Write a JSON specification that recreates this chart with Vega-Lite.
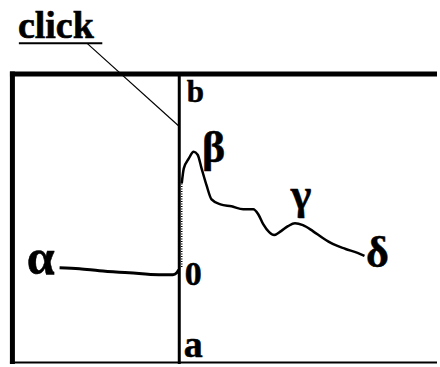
{
  "$schema": "https://vega.github.io/schema/vega-lite/v6.json",
  "width": 440,
  "height": 367,
  "autosize": {"type": "fit", "contains": "padding"},
  "padding": 0,
  "background": "white",
  "config": {"view": {"stroke": null}},
  "encoding": {
    "x": {"type": "quantitative", "scale": {"domain": [-180, 260], "nice": false, "zero": false}, "axis": null},
    "y": {"type": "quantitative", "scale": {"domain": [-92, 275], "nice": false, "zero": false}, "axis": null}
  },
  "layer": [
    {
      "data": {"values": [{"t": -170, "t2": 260, "v": 200.5, "v2": 200.5}, {"t": -167.5, "t2": -167.5, "v": 203, "v2": -92}]},
      "mark": {"type": "rule", "strokeWidth": 5, "color": "black"},
      "encoding": {"x": {"field": "t"}, "x2": {"field": "t2"}, "y": {"field": "v"}, "y2": {"field": "v2"}}
    },
    {
      "data": {"values": [{"t": -170, "t2": 260, "v": -90.5, "v2": -90.5}, {"t": -161, "t2": -77, "v": 231.5, "v2": 231.5}]},
      "mark": {"type": "rule", "strokeWidth": 2, "color": "black"},
      "encoding": {"x": {"field": "t"}, "x2": {"field": "t2"}, "y": {"field": "v"}, "y2": {"field": "v2"}}
    },
    {
      "data": {"values": [{"t": 0.5, "t2": 0.5, "v": 200, "v2": -92}]},
      "mark": {"type": "rule", "strokeWidth": 3, "color": "black"},
      "encoding": {"x": {"field": "t"}, "x2": {"field": "t2"}, "y": {"field": "v"}, "y2": {"field": "v2"}}
    },
    {
      "data": {"values": [{"t": -92, "t2": 0, "v": 231, "v2": 148}]},
      "mark": {"type": "rule", "strokeWidth": 1.2, "color": "black"},
      "encoding": {"x": {"field": "t"}, "x2": {"field": "t2"}, "y": {"field": "v"}, "y2": {"field": "v2"}}
    },
    {
      "data": {"values": [{"t": 3, "t2": 3, "v": 90, "v2": 5}]},
      "mark": {"type": "rule", "strokeWidth": 1.5, "strokeDash": [1, 1.5], "color": "black"},
      "encoding": {"x": {"field": "t"}, "x2": {"field": "t2"}, "y": {"field": "v"}, "y2": {"field": "v2"}}
    },
    {
      "data": {"values": [
        {"t": -120, "v": 5}, {"t": -100, "v": 4}, {"t": -80, "v": 2}, {"t": -50, "v": 0},
        {"t": -20, "v": -2}, {"t": -6, "v": -2}, {"t": -2, "v": 0}, {"t": 0, "v": 3}
      ]},
      "mark": {"type": "line", "strokeWidth": 3, "color": "black", "interpolate": "monotone"},
      "encoding": {"x": {"field": "t"}, "y": {"field": "v"}}
    },
    {
      "data": {"values": [
        {"t": 3, "v": 90}, {"t": 5, "v": 105}, {"t": 10, "v": 115}, {"t": 15, "v": 122},
        {"t": 19, "v": 119}, {"t": 23, "v": 105}, {"t": 28, "v": 88}, {"t": 33, "v": 74},
        {"t": 42, "v": 69}, {"t": 53, "v": 67}, {"t": 65, "v": 64}, {"t": 75, "v": 64},
        {"t": 80, "v": 59}, {"t": 85, "v": 49}, {"t": 91, "v": 41}, {"t": 96, "v": 38},
        {"t": 103, "v": 42}, {"t": 110, "v": 47}, {"t": 117, "v": 50}, {"t": 125, "v": 48},
        {"t": 135, "v": 42}, {"t": 145, "v": 35}, {"t": 155, "v": 29}, {"t": 168, "v": 24},
        {"t": 180, "v": 20}, {"t": 187, "v": 17}
      ]},
      "mark": {"type": "line", "strokeWidth": 2.5, "color": "black", "interpolate": "monotone"},
      "encoding": {"x": {"field": "t"}, "y": {"field": "v"}}
    },
    {
      "data": {"values": [{"label": "click", "t": -162, "v": 237}]},
      "mark": {"type": "text", "font": "Liberation Serif", "fontWeight": "bold", "color": "black", "stroke": "black", "strokeWidth": 0.6, "fontSize": 38, "align": "left", "baseline": "alphabetic"},
      "encoding": {"x": {"field": "t"}, "y": {"field": "v"}, "text": {"field": "label"}}
    },
    {
      "data": {"values": [{"label": "b", "t": 8, "v": 172}]},
      "mark": {"type": "text", "font": "Liberation Serif", "fontWeight": "bold", "color": "black", "stroke": "black", "strokeWidth": 0.5, "fontSize": 31, "align": "left", "baseline": "alphabetic"},
      "encoding": {"x": {"field": "t"}, "y": {"field": "v"}, "text": {"field": "label"}}
    },
    {
      "data": {"values": [{"label": "0", "t": 6, "v": -12}]},
      "mark": {"type": "text", "font": "Liberation Serif", "fontWeight": "bold", "color": "black", "stroke": "black", "strokeWidth": 0.5, "fontSize": 34, "align": "left", "baseline": "alphabetic"},
      "encoding": {"x": {"field": "t"}, "y": {"field": "v"}, "text": {"field": "label"}}
    },
    {
      "data": {"values": [{"label": "a", "t": 5, "v": -85}]},
      "mark": {"type": "text", "font": "Liberation Serif", "fontWeight": "bold", "color": "black", "stroke": "black", "strokeWidth": 0.5, "fontSize": 38, "align": "left", "baseline": "alphabetic"},
      "encoding": {"x": {"field": "t"}, "y": {"field": "v"}, "text": {"field": "label"}}
    },
    {
      "data": {"values": [{"label": "α", "t": -153, "v": -1}]},
      "mark": {"type": "text", "font": "Liberation Serif", "fontWeight": "bold", "color": "black", "stroke": "black", "strokeWidth": 0.5, "fontSize": 50, "align": "left", "baseline": "alphabetic"},
      "encoding": {"x": {"field": "t"}, "y": {"field": "v"}, "text": {"field": "label"}}
    },
    {
      "data": {"values": [{"label": "β", "t": 35, "v": 125}, {"label": "γ", "t": 123, "v": 77}, {"label": "δ", "t": 200, "v": 19}]},
      "mark": {"type": "text", "font": "Liberation Serif", "fontWeight": "bold", "color": "black", "stroke": "black", "strokeWidth": 0.5, "fontSize": 44, "align": "center", "baseline": "middle"},
      "encoding": {"x": {"field": "t"}, "y": {"field": "v"}, "text": {"field": "label"}}
    }
  ]
}
